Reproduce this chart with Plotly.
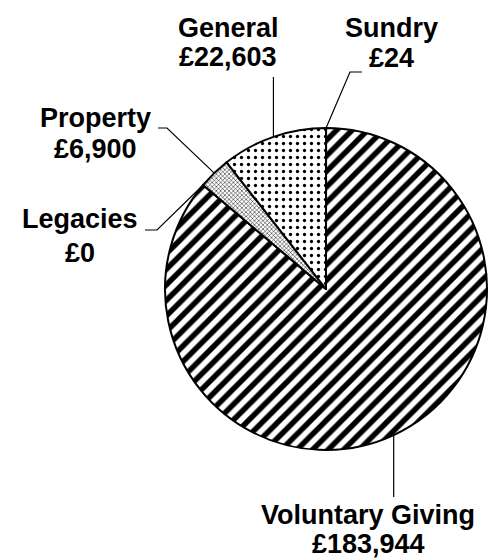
import math
import plotly.graph_objects as go

W, H = 494, 559

# ---- data ----
categories = ["Sundry", "Voluntary Giving", "Legacies", "Property", "General"]
values = [24, 183944, 0, 6900, 22603]
value_labels = ["£24", "£183,944", "£0", "£6,900", "£22,603"]

# ---- styles ----
pattern_shapes = ["", "/", "", "x", "."]
pattern_sizes = [8, 11, 8, 3, 7]
pattern_solidity = [0.3, 0.5, 0.3, 0.3, 0.17]
FONT = "Liberation Sans, Arial, sans-serif"
FONT_SIZE = 27
BASE_SHIFT = 9.5  # distance from a line's baseline to its visual middle

# pie geometry in pixels
CX, CY, R = 326, 289, 161

# label layout in pixels: knee (x None -> same x as edge point), tail end,
# text centre x and the two baselines
label_layout = {
    "Sundry": dict(knee=(350, 72), tail=(362, 72), text=(391, 37, 68)),
    "Voluntary Giving": dict(knee=(None, 497), tail=None, text=(368, 524, 553)),
    "Legacies": dict(knee=(157, 230), tail=(145, 230), text=(80, 229, 263)),
    "Property": dict(knee=(167, 128), tail=(158, 128), text=(95, 127, 158)),
    "General": dict(knee=(None, 77), tail=None, text=(228, 37, 67)),
}


def px(x):
    return x / W


def py(y):
    return 1 - y / H


fig = go.Figure()
fig.add_trace(
    go.Pie(
        labels=categories,
        values=values,
        sort=False,
        direction="clockwise",
        rotation=0,
        textinfo="none",
        hoverinfo="label+value",
        showlegend=False,
        domain=dict(x=[px(CX - R), px(CX + R)], y=[py(CY + R), py(CY - R)]),
        marker=dict(
            colors=["white"] * len(categories),
            line=dict(color="black", width=2),
            pattern=dict(
                shape=pattern_shapes,
                size=pattern_sizes,
                solidity=pattern_solidity,
                fgcolor="black",
                fgopacity=1,
                bgcolor="white",
                fillmode="overlay",
            ),
        ),
    )
)

total = sum(values)
cum = 0.0
shapes = []
annotations = []
for name, v, vl in zip(categories, values, value_labels):
    mid = (cum + v / 2) / total * 2 * math.pi
    cum += v
    ex = CX + R * math.sin(mid)
    ey = CY - R * math.cos(mid)
    lay = label_layout[name]
    kx, ky = lay["knee"]
    if kx is None:
        kx = ex
    pts = [(ex, ey), (kx, ky)]
    if lay["tail"] is not None:
        pts.append(lay["tail"])
    path = "M " + " L ".join(f"{px(x):.5f},{py(y):.5f}" for x, y in pts)
    shapes.append(
        dict(type="path", path=path, xref="paper", yref="paper",
             line=dict(color="black", width=1.2))
    )
    tx, b1, b2 = lay["text"]
    for txt, base in ((name, b1), (vl, b2)):
        annotations.append(
            dict(
                x=px(tx), y=py(base - BASE_SHIFT), xref="paper", yref="paper",
                text=f"<b>{txt}</b>",
                showarrow=False, xanchor="center", yanchor="middle", align="center",
                font=dict(family=FONT, size=FONT_SIZE, color="black"),
            )
        )

fig.update_layout(
    width=W, height=H,
    margin=dict(l=0, r=0, t=0, b=0),
    paper_bgcolor="white",
    plot_bgcolor="white",
    shapes=shapes,
    annotations=annotations,
)

fig.write_html("out.html")
